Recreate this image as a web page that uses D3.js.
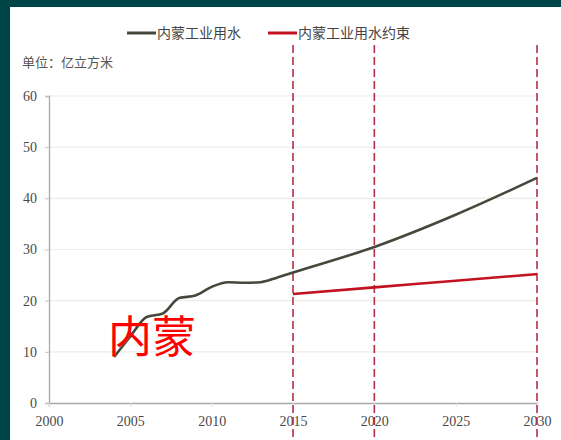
<!DOCTYPE html>
<html>
<head>
<meta charset="utf-8">
<script src="https://cdn.jsdelivr.net/npm/d3@7"></script>
<style>
  html, body { margin: 0; padding: 0; background: #004649; }
  svg { display: block; }
</style>
</head>
<body>
<div id="chart"></div>
<script>
// data
var useYears = [2004, 2005, 2006, 2007, 2008, 2009, 2010, 2011, 2012, 2013, 2014, 2015, 2020, 2025, 2030];
var useValues = [9, 13, 16.8, 17.5, 20.5, 21, 22.7, 23.6, 23.5, 23.6, 24.5, 25.5, 30.5, 36.8, 44];
var limitYears = [2015, 2020, 2025, 2030];
var limitValues = [21.3, 22.6, 23.9, 25.2];
var markYears = [2015, 2020, 2030];
var xTicks = [2000, 2005, 2010, 2015, 2020, 2025, 2030];
var yTicks = [0, 10, 20, 30, 40, 50, 60];
var seriesNames = ["内蒙工业用水", "内蒙工业用水约束"];

var W = 561, H = 440;
var svg = d3.select("#chart").append("svg").attr("width", W).attr("height", H);

// teal frame + white card
svg.append("rect").attr("width", W).attr("height", H).attr("fill", "#004649");
svg.append("rect").attr("x", 10).attr("y", 7).attr("width", W - 10).attr("height", H - 7).attr("fill", "#fff");

var margin = { top: 96, left: 49, right: 24, bottom: 37 };
var x = d3.scaleLinear().domain([2000, 2030]).range([margin.left, W - margin.right]);
var y = d3.scaleLinear().domain([0, 60]).range([H - margin.bottom, margin.top]);

// gridlines
svg.append("g").selectAll("line").data(yTicks.slice(1)).enter().append("line")
    .attr("x1", x(2000)).attr("x2", x(2030))
    .attr("y1", function (d) { return y(d); }).attr("y2", function (d) { return y(d); })
    .attr("stroke", "#ececec").attr("stroke-width", 1.2);

// y axis
var yAxis = svg.append("g").attr("transform", "translate(" + x(2000) + ",0)")
    .call(d3.axisLeft(y).tickValues(yTicks).tickSize(4).tickPadding(8));
// x axis
var xAxis = svg.append("g").attr("transform", "translate(0," + y(0) + ")")
    .call(d3.axisBottom(x).tickValues(xTicks).tickFormat(d3.format("d")).tickSize(4).tickPadding(9));

[yAxis, xAxis].forEach(function (a) {
    a.select(".domain").attr("stroke", "#a8a8a8").attr("stroke-width", 1.3);
    a.selectAll(".tick line").attr("stroke", "#c4c4c4");
    a.selectAll("text").attr("font-family", "Liberation Serif, serif")
        .attr("font-size", 14).attr("fill", "#4a4a4a");
});
xAxis.selectAll(".tick line").attr("stroke", "#e0e0e0");

// red dashed markers
svg.append("g").selectAll("line").data(markYears).enter().append("line")
    .attr("x1", function (d) { return x(d); }).attr("x2", function (d) { return x(d); })
    .attr("y1", 45).attr("y2", H)
    .attr("stroke", "#b03048").attr("stroke-width", 1.6)
    .attr("stroke-dasharray", "8,4");

var line = d3.line().curve(d3.curveMonotoneX)
    .x(function (d) { return x(d[0]); })
    .y(function (d) { return y(d[1]); });

svg.append("path").datum(d3.zip(useYears, useValues)).attr("d", line)
    .attr("fill", "none").attr("stroke", "#45483a").attr("stroke-width", 2.6);
svg.append("path").datum(d3.zip(limitYears, limitValues)).attr("d", line)
    .attr("fill", "none").attr("stroke", "#c2121f").attr("stroke-width", 2.6);

// legend
var colors = ["#45483a", "#c2121f"];
var legX = [127, 268];
seriesNames.forEach(function (name, i) {
    svg.append("line").attr("x1", legX[i]).attr("x2", legX[i] + 29)
        .attr("y1", 33).attr("y2", 33)
        .attr("stroke", colors[i]).attr("stroke-width", 3);
    svg.append("text").attr("x", legX[i] + 30).attr("y", 38)
        .attr("font-family", "Noto Sans CJK SC").attr("font-size", 14)
        .attr("fill", "#444").text(name);
});

svg.append("text").attr("x", 22).attr("y", 67)
    .attr("font-family", "Noto Sans CJK SC").attr("font-size", 13)
    .attr("fill", "#555").text("单位：亿立方米");

// big red overlay label
svg.append("text").attr("x", 108).attr("y", 353)
    .attr("font-family", "Noto Sans CJK SC").attr("font-size", 44)
    .attr("fill", "#ff0000").text("内蒙");
</script>
</body>
</html>
